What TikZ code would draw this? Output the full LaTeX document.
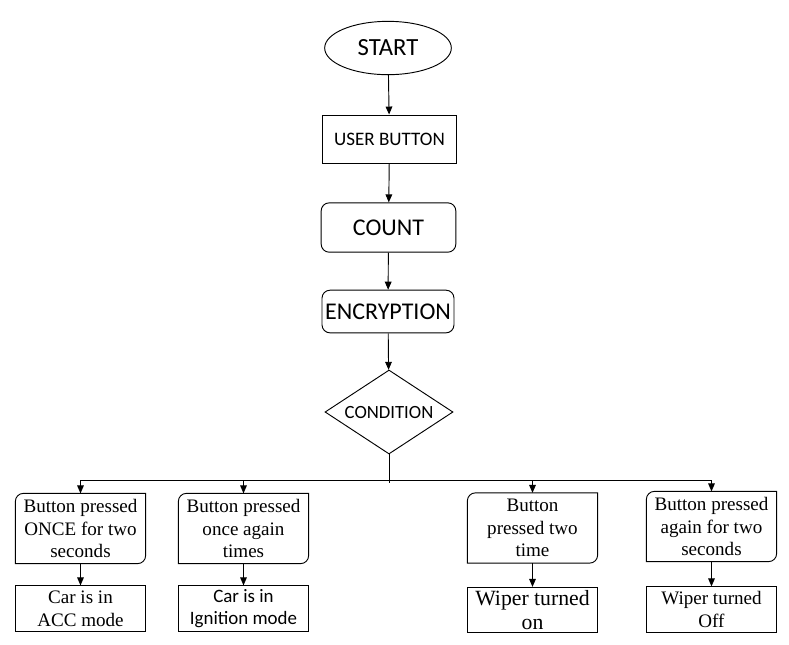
\documentclass[tikz,border=0pt]{standalone}
\usepackage{fontspec}
\setmainfont{Liberation Serif}
\newfontfamily\calfont{Carlito}
\usetikzlibrary{shapes.geometric, arrows.meta}

\newcommand{\cutframe}[1]{%
	\draw ([xshift=6pt]#1.north west) -- (#1.north east) -- ([yshift=6pt]#1.south east)
		arc[start angle=0, end angle=-90, radius=6pt] -- (#1.south west)
		-- ([yshift=-6pt]#1.north west) arc[start angle=180, end angle=90, radius=6pt] -- cycle;}

\begin{document}
\begin{tikzpicture}[
		x=0.75pt, y=0.75pt,
		line width=0.7pt,
		>={Triangle[length=6pt, width=5pt]},
		upper/.style={draw, inner sep=1pt, minimum width=101pt},
		choice/.style={minimum width=97pt, minimum height=52pt, inner sep=0pt, align=center, font=\fontsize{14.3}{17}\selectfont},
		result/.style={draw, minimum width=97pt, minimum height=34pt, inner sep=0pt, align=center, font=\fontsize{14.3}{17}\selectfont}
	]
	\useasboundingbox (0,0) rectangle (789,-644);

	\node[draw, ellipse, minimum width=95pt, minimum height=40pt, inner sep=1pt, font=\calfont\fontsize{18.5}{20}\selectfont] (start) at (388,-48) {START};
	\node[upper, minimum height=36pt, font=\calfont\fontsize{14.3}{16}\selectfont] (user) at (389.5,-139) {USER BUTTON};
	\node[upper, rounded corners=6pt, minimum height=37pt, font=\calfont\fontsize{18}{20}\selectfont] (count) at (388.5,-227.5) {COUNT};
	\node[upper, rounded corners=6pt, minimum width=99pt, minimum height=32pt, font=\calfont\fontsize{18}{20}\selectfont] (enc) at (388,-311.5) {ENCRYPTION};
	\node[draw, diamond, aspect=1.5, inner sep=0pt, minimum width=96pt, minimum height=63pt, font=\calfont\fontsize{14}{16}\selectfont] (cond) at (389,-412) {CONDITION};

	\node[choice] (once) at (80.5,-528.5) {Button pressed\\ONCE for two\\seconds};
	\node[choice] (again) at (243.5,-528.5) {Button pressed\\once again\\times};
	\node[choice] (two) at (532.5,-528) {Button\\pressed two\\time};
	\node[choice] (off) at (711.5,-526.5) {Button pressed\\again for two\\seconds};

	\node[result] (acc) at (80.5,-608.5) {Car is in\\ACC mode};
	\node[result, font=\calfont\fontsize{14.2}{17}\selectfont] (ign) at (243.5,-608.5) {Car is in\\Ignition mode};
	\node[result, font=\fontsize{16.3}{18}\selectfont] (won) at (532.5,-610) {Wiper turned\\on};
	\node[result] (woff) at (711.5,-609.5) {Wiper turned\\Off};

	\foreach \b in {once, again, two, off}
		\cutframe{\b};

	\coordinate (split) at (389,-480);

	\draw[->] (start) -- (user);
	\draw[->] (user) -- (count);
	\draw[->] (count) -- (enc);
	\draw[->] (enc) -- (cond);
	\draw (cond.south) -- ([yshift=-2]split);
	\draw (once |- split) -- (off |- split);
	\draw[->] (once |- split) -- (once);
	\draw[->] (again |- split) -- (again);
	\draw[->] (two |- split) -- (two);
	\draw[->] (off |- split) -- (off);
	\draw[->] (once) -- (acc);
	\draw[->] (again) -- (ign);
	\draw[->] (two) -- (won);
	\draw[->] (off) -- (woff);
\end{tikzpicture}
\end{document}
